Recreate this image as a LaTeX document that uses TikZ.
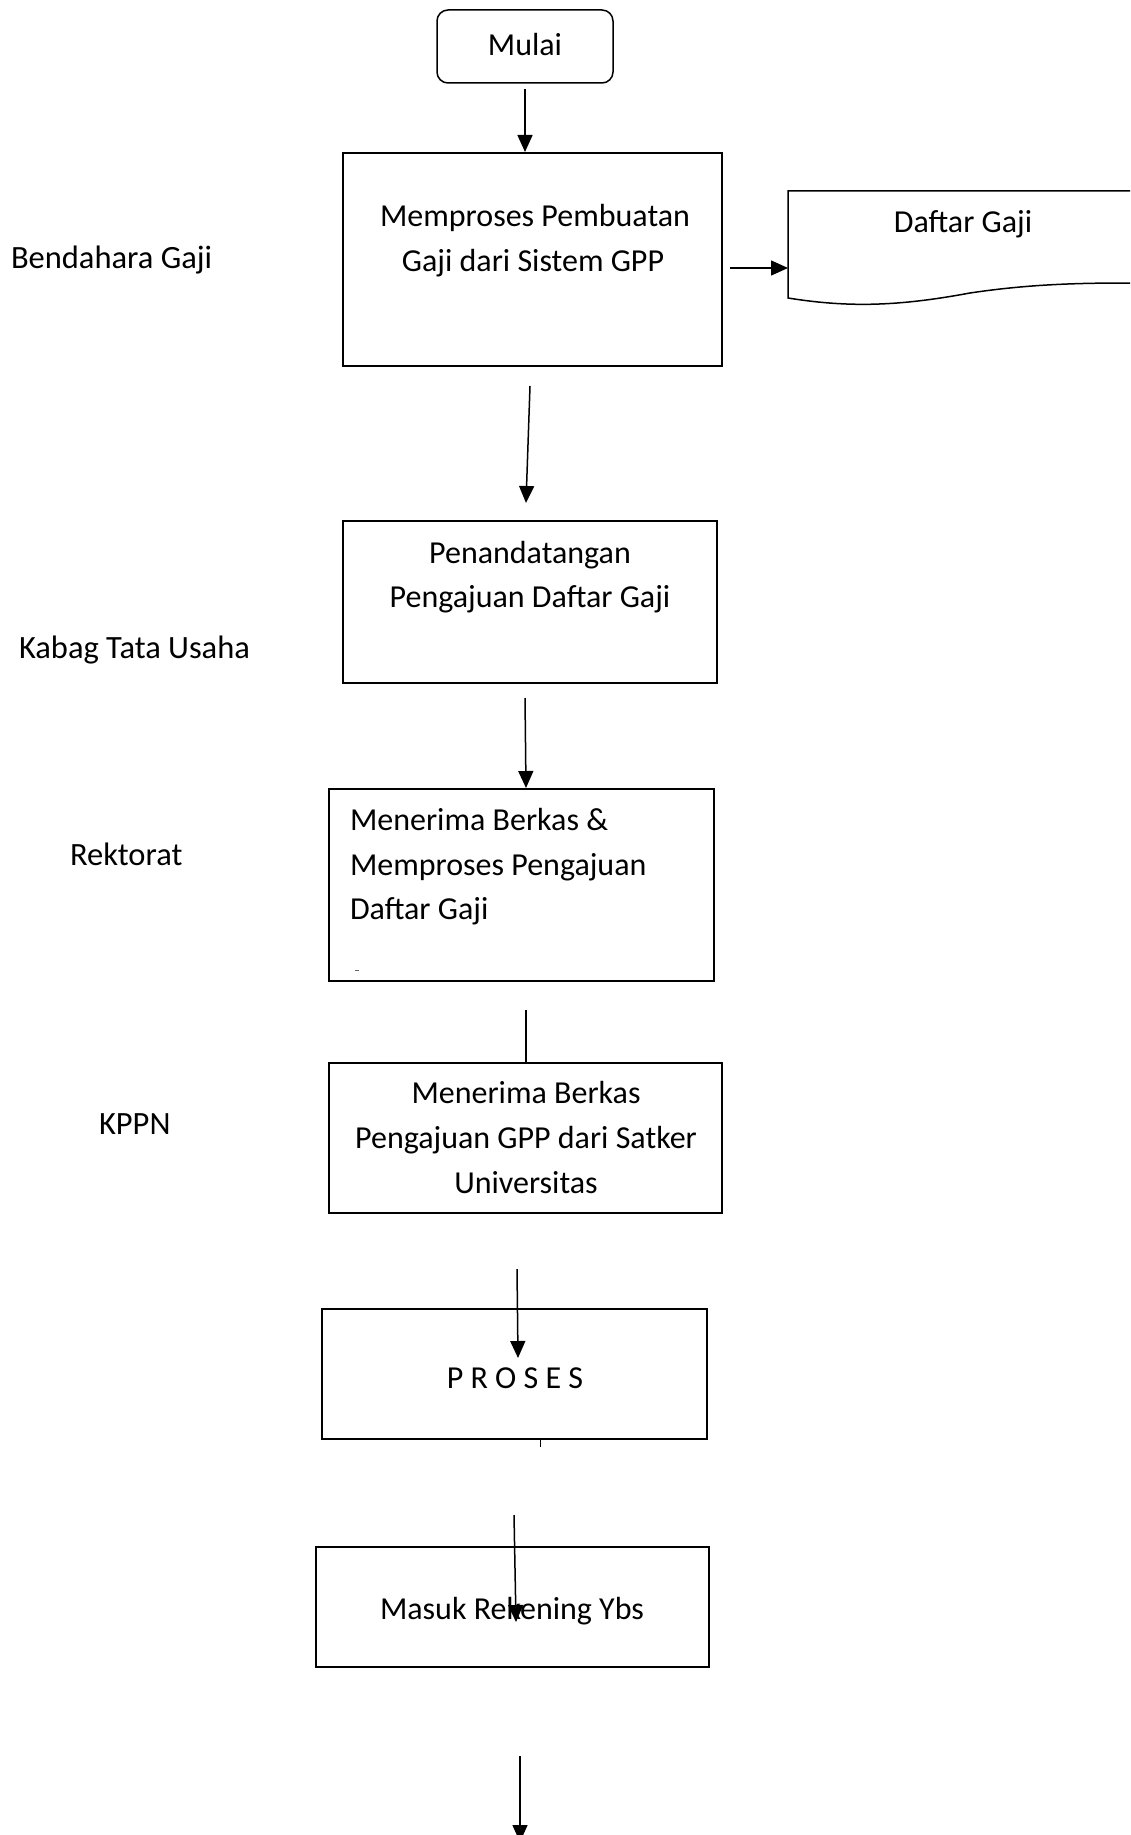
\documentclass[tikz,border=0pt]{standalone}
\usepackage{fontspec}
\setmainfont{Carlito}
\usetikzlibrary{arrows.meta}

\begin{document}
\begin{tikzpicture}[x=1pt,y=-1pt,
  every node/.style={inner sep=0pt, outer sep=0pt},
  stepbox/.style={draw, line width=1.5pt, rectangle},
  boxtext/.style={font=\fontsize{32}{45}\selectfont, anchor=base},
  lanetext/.style={font=\fontsize{32.5}{40}\selectfont, anchor=base west},
  flow/.style={line width=1.5pt, -{Triangle[length=17pt,width=15pt]}},
  plain/.style={line width=1.5pt}
]
\useasboundingbox (0,0) rectangle (1130,1835);

% lane labels
\node[lanetext] (lane1) at (11,269)   {Bendahara Gaji};
\node[lanetext] (lane2) at (19,658)   {Kabag Tata Usaha};
\node[lanetext] (lane3) at (70,865)   {Rektorat};
\node[lanetext] (lane4) at (99,1134)  {KPPN};

% start terminal
\draw[line width=1.5pt, rounded corners=11pt] (437,10) rectangle (613,83);
\node[boxtext] (start) at (525,56) {Mulai};

% process boxes
\draw[stepbox] (343,153) rectangle (722,366);
\node[boxtext] (t1a) at (535,227) {Memproses Pembuatan};
\node[boxtext] (t1b) at (533,271) {Gaji dari Sistem GPP};

\draw[stepbox] (343,521) rectangle (717,683);
\node[boxtext] (t2a) at (530,563) {Penandatangan};
\node[boxtext] (t2b) at (530,607) {Pengajuan Daftar Gaji};

\draw[stepbox] (329,789) rectangle (714,981);
\node[boxtext, anchor=base west] (t3a) at (350,830) {Menerima Berkas \&};
\node[boxtext, anchor=base west] (t3b) at (350,875) {Memproses Pengajuan};
\node[boxtext, anchor=base west] (t3c) at (350,919) {Daftar Gaji};
\draw[line width=0.8pt, black!60] (355,970) -- (359,970);

\draw[stepbox] (329,1063) rectangle (722,1213);
\node[boxtext] (t4a) at (526,1103) {Menerima Berkas};
\node[boxtext] (t4b) at (526,1148) {Pengajuan GPP dari Satker};
\node[boxtext] (t4c) at (526,1193) {Universitas};

\draw[stepbox] (322,1309) rectangle (707,1439);
\node[boxtext] (t5) at (515,1388) {P R O S E S};
\draw[line width=1pt] (540,1439) -- (540,1447);

\draw[stepbox] (316,1547) rectangle (709,1667);
\node[boxtext] (t6) at (512,1619) {Masuk Rekening Ybs};

% document shape
\draw[line width=1.5pt] (1130,191) -- (788,191) -- (788,298)
  .. controls (850,308) and (900,306) .. (970,293)
  .. controls (1030,284) and (1080,283) .. (1130,283);
\node[boxtext] (doc) at (963,233) {Daftar Gaji};

% connector end points
\coordinate (a0s) at (525,89);   \coordinate (a0e) at (525,152);
\coordinate (a1s) at (730,268);  \coordinate (a1e) at (788,268);
\coordinate (a2s) at (530,386);  \coordinate (a2e) at (526,503);
\coordinate (a3s) at (525,698);  \coordinate (a3e) at (526,788);
\coordinate (a4s) at (526,1010); \coordinate (a4e) at (526,1063);
\coordinate (a5s) at (517,1269); \coordinate (a5e) at (518,1358);
\coordinate (a6s) at (514,1515); \coordinate (a6e) at (516,1622);
\coordinate (a7s) at (520,1756); \coordinate (a7e) at (520,1842);

% connectors
\draw[flow] (a0s) -- (a0e);
\draw[flow] (a1s) -- (a1e);
\draw[flow] (a2s) -- (a2e);
\draw[flow] (a3s) -- (a3e);
\draw[plain] (a4s) -- (a4e);
\draw[flow] (a5s) -- (a5e);
\draw[flow] (a6s) -- (a6e);
\draw[flow] (a7s) -- (a7e);
\end{tikzpicture}
\end{document}
